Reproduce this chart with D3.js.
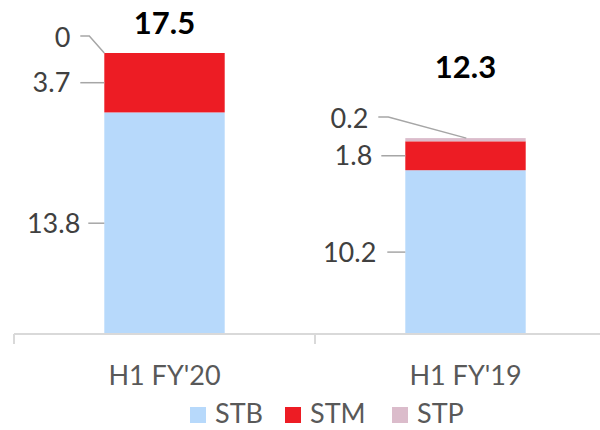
<!DOCTYPE html>
<html>
<head>
<meta charset="utf-8">
<script src="https://cdn.jsdelivr.net/npm/d3@7"></script>
<style>
  body { margin: 0; background: #fff; }
  text { font-family: Lato, "Open Sans", sans-serif; }
</style>
</head>
<body>
<div id="chart"></div>
<script>
(function () {

  const categories = ["H1 FY'20", "H1 FY'19"]
  const seriesNames = ['STB', 'STM', 'STP']
  const stbValues = [13.8, 10.2]
  const stmValues = [3.7, 1.8]
  const stpValues = [0, 0.2]
  const totals = [17.5, 12.3]

  const width = 600
  const height = 430

  const svg = d3.select("#chart").append("svg")
      .attr("width", width)
      .attr("height", height)

  const colorScale = d3.scaleOrdinal()
    .domain(seriesNames)
    .range(['#b7d9fb', '#ed1c24', '#dbbccb'])

  const xPositionScale = d3.scaleBand()
    .domain(categories)
    .range([14, 616])
    .paddingInner(0.6)
    .paddingOuter(0.3)

  const yPositionScale = d3.scaleLinear()
    .domain([0, 17.5])
    .range([334, 53])

  // build rows for d3.stack
  const rows = categories.map((c, i) => ({
    category: c, STB: stbValues[i], STM: stmValues[i], STP: stpValues[i], total: totals[i]
  }))

  const stacked = d3.stack().keys(seriesNames)(rows)

  svg.append('g').selectAll('g')
    .data(stacked)
    .join('g')
    .attr('fill', d => colorScale(d.key))
    .selectAll('rect')
    .data(d => d)
    .join('rect')
    .attr('x', d => xPositionScale(d.data.category))
    .attr('width', xPositionScale.bandwidth())
    .attr('y', d => yPositionScale(d[1]))
    .attr('height', d => yPositionScale(d[0]) - yPositionScale(d[1]))

  // axis line with ticks at band boundaries
  const x0 = xPositionScale.range()[0]
  const step = xPositionScale.step()
  const base = yPositionScale(0)
  const axis = svg.append('g').attr('class', 'x-axis')
  axis.append('line')
    .attr('x1', x0).attr('x2', width)
    .attr('y1', base).attr('y2', base)
    .attr('stroke', '#d9d9d9').attr('stroke-width', 2)
  axis.selectAll('.tick')
    .data([0, 1, 2])
    .join('line')
    .attr('class', 'tick')
    .attr('x1', d => x0 + d * step).attr('x2', d => x0 + d * step)
    .attr('y1', base).attr('y2', base + 10)
    .attr('stroke', '#d9d9d9').attr('stroke-width', 2)

  axis.selectAll('text')
    .data(categories)
    .join('text')
    .attr('x', d => xPositionScale(d) + xPositionScale.bandwidth() / 2)
    .attr('y', 385)
    .attr('text-anchor', 'middle')
    .attr('font-size', 27)
    .attr('fill', '#595959')
    .text(d => d)

  // label placement tweaks (relative to bar left edge), by [series][category]
  const labelLayout = {
    STB: [{ tx: -24, lx: -16, dy: 0 }, { tx: -29, lx: -18, dy: 0 }],
    STM: [{ tx: -34, lx: -24, dy: 0 }, { tx: -33, lx: -24, dy: 0 }],
    STP: [{ tx: -34, lx: -24, elbow: -15, dy: -16, endX: 0 }, { tx: -37, lx: -27, elbow: -17, dy: -20, endX: 61 }]
  }

  const labels = svg.append('g')
  stacked.forEach(s => {
    s.forEach((d, i) => {
      const lay = labelLayout[s.key][i]
      const bx = xPositionScale(d.data.category)
      const mid = (yPositionScale(d[0]) + yPositionScale(d[1])) / 2
      const value = d[1] - d[0]
      let ty = mid
      if (s.key === 'STP') {
        ty = yPositionScale(d[1]) + lay.dy
        labels.append('path')
          .attr('d', `M${bx + lay.lx},${ty - 1}H${bx + lay.elbow}L${bx + lay.endX},${yPositionScale(d[1])}`)
          .attr('fill', 'none')
          .attr('stroke', '#a6a6a6')
          .attr('stroke-width', 1.5)
      } else {
        labels.append('line')
          .attr('x1', bx + lay.lx).attr('x2', bx)
          .attr('y1', ty).attr('y2', ty)
          .attr('stroke', '#a6a6a6')
          .attr('stroke-width', 1.5)
      }
      labels.append('text')
        .attr('x', bx + lay.tx)
        .attr('y', ty)
        .attr('dy', '0.36em')
        .attr('text-anchor', 'end')
        .attr('font-size', 27)
        .attr('fill', '#404040')
        .text(d3.format('.1~f')(value))
    })
  })

  // totals
  const totalOffset = [19, 60]
  svg.append('g').selectAll('text')
    .data(rows)
    .join('text')
    .attr('x', d => xPositionScale(d.category) + xPositionScale.bandwidth() / 2)
    .attr('y', (d, i) => yPositionScale(d.STB + d.STM + d.STP) - totalOffset[i])
    .attr('text-anchor', 'middle')
    .attr('font-size', 31)
    .attr('font-weight', 'bold')
    .attr('fill', '#000')
    .text(d => d.total)

  // legend
  const legendX = [190, 285, 392]
  const legend = svg.append('g')
  legend.selectAll('rect')
    .data(seriesNames)
    .join('rect')
    .attr('x', (d, i) => legendX[i])
    .attr('y', 407)
    .attr('width', 16)
    .attr('height', 16)
    .attr('fill', d => colorScale(d))
  legend.selectAll('text')
    .data(seriesNames)
    .join('text')
    .attr('x', (d, i) => legendX[i] + 25)
    .attr('y', 423)
    .attr('font-size', 27)
    .attr('fill', '#595959')
    .text(d => d)

})();
</script>
</body>
</html>
